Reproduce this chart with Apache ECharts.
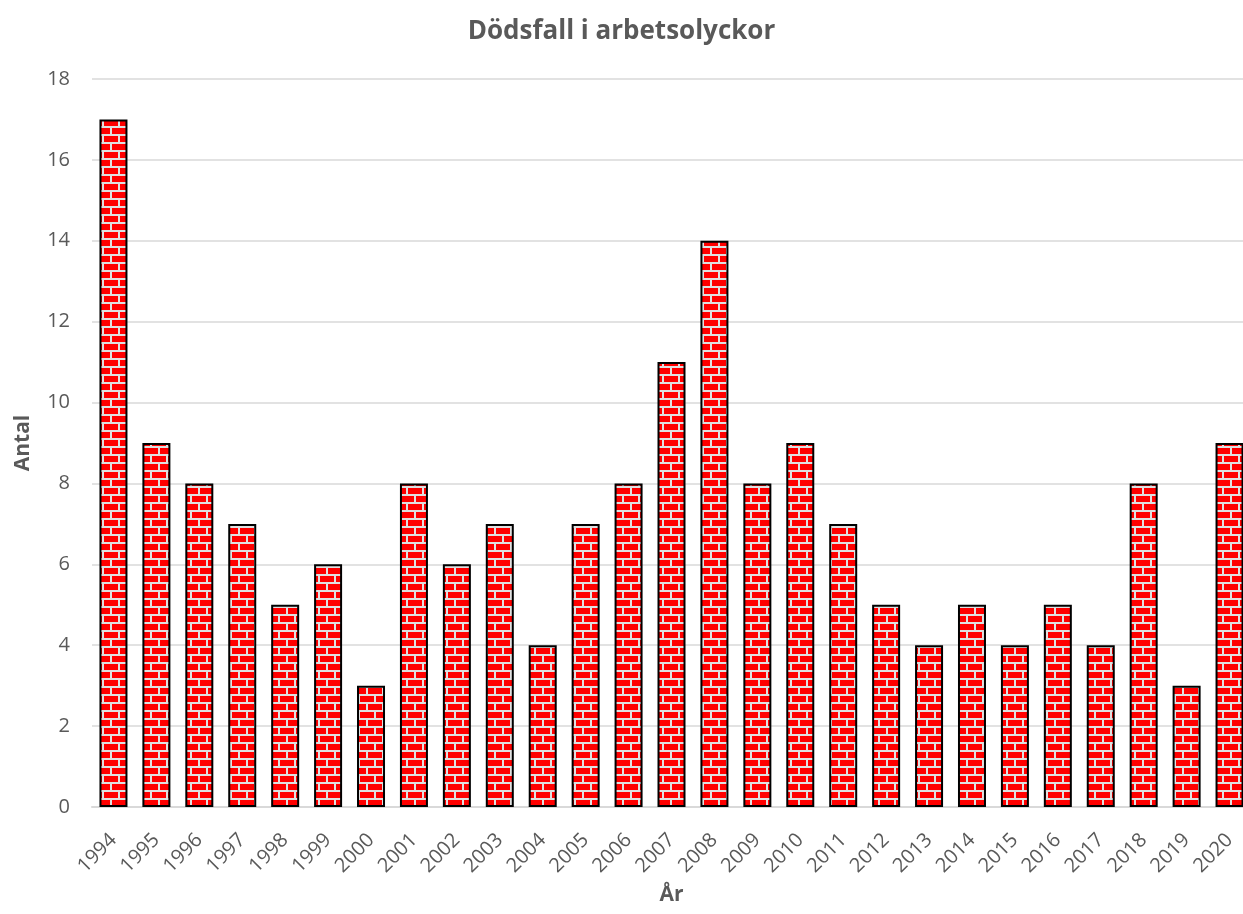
<!DOCTYPE html>
<html>
<head>
<meta charset="utf-8">
<script src="https://cdn.jsdelivr.net/npm/echarts@6/dist/echarts.min.js"></script>
<style>
  html, body { margin: 0; padding: 0; background: #fff; overflow: hidden; }
  #chart { width: 1243px; height: 914px; }
</style>
</head>
<body>
<div id="chart"></div>
<script>
const years = ['1994','1995','1996','1997','1998','1999','2000','2001','2002','2003','2004','2005','2006','2007','2008','2009','2010','2011','2012','2013','2014','2015','2016','2017','2018','2019','2020']
const deaths = [17, 9, 8, 7, 5, 6, 3, 8, 6, 7, 4, 7, 8, 11, 14, 8, 9, 7, 5, 4, 5, 4, 5, 4, 8, 3, 9]

// tegelmönster
function brickPattern () {
  const c = document.createElement('canvas')
  c.width = 16
  c.height = 16
  const ctx = c.getContext('2d')
  ctx.fillStyle = '#e0e0e0'
  ctx.fillRect(0, 0, 16, 16)
  ctx.fillStyle = '#ff0000'
  // rad 1
  ctx.fillRect(0, 0, 14, 6)
  // rad 2, förskjuten
  ctx.fillRect(0, 8, 6, 6)
  ctx.fillRect(8, 8, 8, 6)
  return c
}

const myChart = echarts.init(document.getElementById('chart'))
const grey = '#595959'
myChart.setOption({
  animation: false,
  textStyle: { fontFamily: '"Open Sans", sans-serif' },
  title: {
    text: 'Dödsfall i arbetsolyckor',
    left: 'center',
    top: 14,
    textStyle: { fontSize: 26, fontWeight: 'bold', color: grey }
  },
  grid: { left: 92, width: 1159, top: 79, bottom: 107, outerBoundsMode: 'none', containLabel: false },
  xAxis: {
    type: 'category',
    data: years,
    name: 'År',
    nameLocation: 'middle',
    nameGap: 78,
    nameTextStyle: { fontSize: 21, fontWeight: 'bold', color: grey },
    axisTick: { show: false },
    axisLine: { lineStyle: { color: '#d9d9d9', width: 2 } },
    axisLabel: { rotate: 45, fontSize: 20, color: grey, margin: 30, interval: 0 }
  },
  yAxis: {
    type: 'value',
    min: 0,
    max: 18,
    interval: 2,
    name: 'Antal',
    nameLocation: 'middle',
    nameGap: 58,
    nameTextStyle: { fontSize: 21, fontWeight: 'bold', color: grey },
    axisLabel: { fontSize: 20, color: grey, margin: 22 },
    splitLine: { lineStyle: { color: '#d9d9d9', width: 1.5 } }
  },
  series: [
    {
      name: 'Antal',
      type: 'bar',
      data: deaths,
      barWidth: 28,
      itemStyle: {
        color: { image: brickPattern(), repeat: 'repeat' },
        borderColor: '#000',
        borderWidth: 2
      }
    }
  ]
})
</script>
</body>
</html>
